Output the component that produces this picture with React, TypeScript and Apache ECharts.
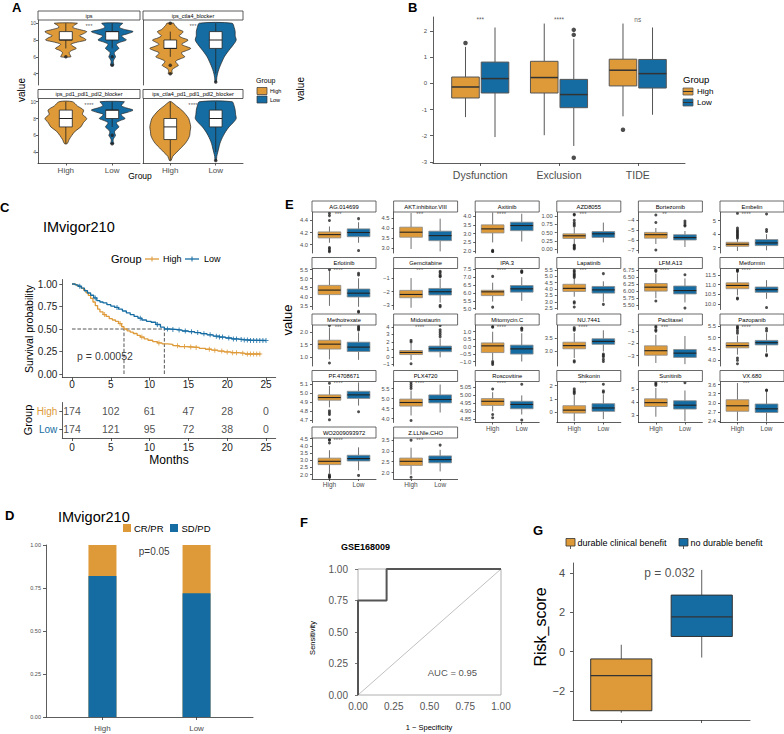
import React, { useEffect, useRef } from "react";
import * as echarts from "echarts";

const FONT = "'Liberation Sans', Arial, Helvetica, sans-serif";
const ORANGE = "#DE9A38";
const BLUE = "#156CA2";
const FILLS = [ORANGE, BLUE];
const GRAY_TXT = "#4d4d4d";
const GROUPS = ["High", "Low"];

// ---------------- Panel A : violins ----------------
const A_FACETS = ["ips", "ips_ctla4_blocker", "ips_pd1_pdl1_pdl2_blocker", "ips_ctla4_pd1_pdl1_pdl2_blocker"];
const A_SIG = ["***", "***", "****", "****"];
const A_Y_TICKS = [4, 6, 8, 10];
const A_Y_RANGE = [2.65, 10.38];
// density profiles: [value, relative half width]
const V_IPS_HIGH = [[6.0,0.24],[6.25,0.2],[6.5,0.16],[6.75,0.28],[7.0,0.5],[7.25,0.35],[7.5,0.25],[7.75,0.55],[8.0,0.97],[8.25,0.85],[8.5,0.65],[8.75,0.85],[9.0,1.0],[9.25,0.65],[9.5,0.33],[9.75,0.4],[10.0,0.55]];
const V_IPS_LOW = [[5.0,0.08],[5.25,0.06],[5.5,0.05],[5.75,0.1],[6.0,0.16],[6.25,0.12],[6.5,0.1],[6.75,0.2],[7.0,0.32],[7.25,0.25],[7.5,0.2],[7.75,0.4],[8.0,0.68],[8.25,0.55],[8.5,0.45],[8.75,0.75],[9.0,1.0],[9.25,0.6],[9.5,0.35],[9.75,0.4],[10.0,0.5]];
const V_CTLA4_HIGH = [[4.0,0.1],[4.25,0.08],[4.5,0.1],[4.75,0.25],[5.0,0.4],[5.25,0.3],[5.5,0.27],[5.75,0.48],[6.0,0.71],[6.25,0.6],[6.5,0.55],[6.75,0.8],[7.0,1.0],[7.25,0.75],[7.5,0.55],[7.75,0.72],[8.0,0.87],[8.25,0.6],[8.5,0.43],[8.75,0.55],[9.0,0.63],[9.25,0.42],[9.5,0.32],[9.75,0.22],[10.0,0.16]];
const V_CTLA4_LOW = [[3.0,0.03],[3.5,0.05],[4.0,0.09],[4.5,0.15],[5.0,0.23],[5.5,0.32],[6.0,0.42],[6.5,0.56],[7.0,0.72],[7.5,0.88],[8.0,1.0],[8.5,0.95],[9.0,0.95],[9.5,0.9],[10.0,0.8]];
const V_PD1_HIGH = [[5.0,0.06],[5.5,0.16],[6.0,0.29],[6.5,0.45],[7.0,0.72],[7.5,0.84],[8.0,1.0],[8.5,0.8],[9.0,0.85],[9.5,0.55],[10.0,0.32]];
const V_PD1_LOW = [[5.0,0.08],[5.25,0.05],[5.5,0.05],[5.75,0.1],[6.0,0.16],[6.25,0.12],[6.5,0.12],[6.75,0.22],[7.0,0.32],[7.25,0.25],[7.5,0.2],[7.75,0.38],[8.0,0.62],[8.25,0.5],[8.5,0.43],[8.75,0.75],[9.0,1.0],[9.25,0.7],[9.5,0.45],[9.75,0.5],[10.0,0.58]];
const V_ALL_HIGH = [[3.0,0.04],[3.5,0.12],[4.0,0.32],[4.5,0.52],[5.0,0.72],[5.5,0.86],[6.0,0.95],[6.5,0.97],[7.0,1.0],[7.5,0.96],[8.0,0.9],[8.5,0.75],[9.0,0.56],[9.5,0.3],[10.0,0.05]];
const V_ALL_LOW = [[3.0,0.03],[3.5,0.05],[4.0,0.1],[4.5,0.15],[5.0,0.2],[5.5,0.28],[6.0,0.38],[6.5,0.5],[7.0,0.65],[7.5,0.85],[8.0,1.0],[8.5,0.97],[9.0,0.95],[9.5,0.9],[10.0,0.8]];
const A_PROFILES = [[V_IPS_HIGH, V_IPS_LOW], [V_CTLA4_HIGH, V_CTLA4_LOW], [V_PD1_HIGH, V_PD1_LOW], [V_ALL_HIGH, V_ALL_LOW]];
const A_BOX_HIGH = [[7,8,8,9,10],[6,7,7,8,9],[5,7,8,9,10],[3,5.5,7,8,10]];
const A_BOX_LOW = [[7,8,9,9,10],[4,7,8,9,10],[7,8,9,9,10],[4,7,8,9,10]];
const A_OUT_HIGH = [[6],[10,5,4],[],[]];
const A_OUT_LOW = [[6,5],[3],[6,5],[3]];

// ---------------- Panel B : TIDE ----------------
const B_CATS = ["Dysfunction", "Exclusion", "TIDE"];
const B_HIGH = [[-1.29,-0.56,-0.14,0.24,1.39],[-1.98,-0.37,0.22,0.84,2.28],[-1.26,-0.1,0.5,0.92,2.28]];
const B_LOW = [[-2.05,-0.37,0.18,0.81,2.13],[-2.39,-0.93,-0.43,0.15,1.7],[-1.2,-0.18,0.37,0.91,2.13]];
const B_HIGH_OUT = [[1,1.54],[3,-1.77]];
const B_LOW_OUT = [[2,1.85],[2,2.04],[2,-2.84]];
const B_SIG = ["***", "****", "ns"];
const B_Y_TICKS = [-3,-2,-1,0,1,2];

// ---------------- Panel C : Kaplan-Meier ----------------
const KM_HIGH = [[0,1],[0.3,0.994],[0.6,0.983],[0.9,0.971],[1.2,0.954],[1.5,0.931],[1.8,0.903],[2.1,0.874],[2.4,0.84],[2.7,0.8],[3.0,0.76],[3.3,0.72],[3.6,0.69],[4.0,0.66],[4.4,0.64],[4.8,0.615],[5.2,0.6],[5.6,0.585],[6.0,0.56],[6.4,0.525],[6.7,0.5],[7.1,0.48],[7.5,0.465],[7.9,0.45],[8.4,0.43],[8.8,0.41],[9.3,0.39],[9.8,0.375],[10.4,0.36],[11.0,0.345],[11.6,0.335],[12.3,0.33],[13.0,0.315],[13.8,0.305],[14.7,0.3],[15.6,0.295],[16.4,0.285],[17.2,0.275],[18.0,0.265],[18.8,0.255],[19.6,0.245],[20.5,0.237],[21.5,0.23],[22.3,0.222],[24.3,0.222]];
const KM_LOW = [[0,1],[0.4,0.99],[0.8,0.975],[1.2,0.955],[1.6,0.925],[2.0,0.9],[2.4,0.875],[2.8,0.845],[3.2,0.815],[3.6,0.8],[4.0,0.79],[4.5,0.77],[5.0,0.755],[5.5,0.74],[6.0,0.72],[6.5,0.7],[7.0,0.68],[7.5,0.66],[8.0,0.64],[8.5,0.62],[9.0,0.6],[9.6,0.585],[10.2,0.575],[10.8,0.55],[11.4,0.52],[11.9,0.5],[12.6,0.495],[13.4,0.488],[14.2,0.478],[15.0,0.47],[15.8,0.46],[16.6,0.448],[17.4,0.435],[18.2,0.42],[19.0,0.41],[19.8,0.4],[20.6,0.39],[21.4,0.383],[22.2,0.378],[23.0,0.372],[25.0,0.372]];
const CENSOR_HIGH = [4.2,6.2,9.0,11.2,13.6,14.5,15.3,16.0,17.7,18.4,19.3,20.0,20.7,21.2,22.0,22.6,23.0,23.4,23.8,24.2];
const CENSOR_LOW = [1.0,3.0,5.8,8.8,11.0,12.3,13.0,13.8,14.6,15.4,16.2,17.0,17.8,18.6,19.0,19.4,20.2,20.8,21.2,21.8,22.2,22.6,23.0,23.4,23.8,24.2,24.6,25.0];
const MEDIAN_HIGH = 6.7;
const MEDIAN_LOW = 11.9;
const KM_P = "p = 0.00052";
const RISK_TIMES = [0,5,10,15,20,25];
const RISK_HIGH = [174,102,61,47,28,0];
const RISK_LOW = [174,121,95,72,38,0];
const SURV_TICKS = [0,0.25,0.5,0.75,1];

// ---------------- Panel D : response ----------------
const D_SDPD = [0.82, 0.72];
const D_CRPR = [0.18, 0.28];
const D_TICKS = [0,0.25,0.5,0.75,1];
const D_P = "p=0.05";

// ---------------- Panel E : drug sensitivity ----------------
const E_DRUGS = ["AG.014699","AKT.inhibitor.VIII","Axitinib","AZD8055","Bortezomib","Embelin","Erlotinib","Gemcitabine","IPA.3","Lapatinib","LFM.A13","Metformin","Methotrexate","Midostaurin","Mitomycin.C","NU.7441","Paclitaxel","Pazopanib","PF.4708671","PLX4720","Roscovitine","Shikonin","Sunitinib","VX.680","WO2009093972","Z.LLNle.CHO"];
const E_RANGE = [[3.86,4.54],[2.77,4.8],[1.9,4.23],[-0.12,1.12],[-7.3,-3.2],[2.6,5.65],[3.3,5.56],[-3.3,-0.3],[4.95,7.55],[2.4,5.6],[5.35,6.8],[9.7,11.85],[0.63,2.3],[-1.2,4.25],[-1.3,1.45],[2.45,4.0],[-3.85,-0.5],[3.75,5.56],[4.67,5.13],[3.8,5.85],[4.83,5.087],[-0.75,2.3],[2.4,5.6],[2.35,3.7],[1.7,4.55],[1.7,3.6]];
const E_TICKS = [[4.0,4.2,4.4],[3.0,3.5,4.0,4.5],[2.0,2.5,3.0,3.5,4.0],[0,0.25,0.5,0.75,1.0],[-7,-6,-5,-4],[3,4,5],[3.5,4.0,4.5,5.0,5.5],[-3,-2,-1],[5.0,5.5,6.0,6.5,7.0,7.5],[2.5,3.0,3.5,4.0,4.5,5.0,5.5],[5.5,5.75,6.0,6.25,6.5,6.75],[10.0,10.5,11.0,11.5],[1.0,1.5,2.0],[-1,0,1,2,3,4],[-1.0,-0.5,0.0,0.5,1.0],[3.0,3.5],[-3,-2,-1],[4.0,4.5,5.0,5.5],[4.7,4.8,4.9,5.0,5.1],[4.0,4.5,5.0,5.5],[4.85,4.9,4.95,5.0,5.05],[0,1,2],[3,4,5],[2.4,2.7,3.0,3.3,3.6],[2.0,2.5,3.0,3.5,4.0,4.5],[2.0,2.5,3.0,3.5]];
const E_DIGITS = [1,1,1,2,0,0,1,0,1,1,2,1,1,0,1,1,0,1,1,1,2,0,0,1,1,1];
const E_HIGH = [[4.03,4.11,4.165,4.21,4.3],[2.97,3.55,3.8,4.05,4.75],[2.5,3.04,3.27,3.5,4.2],[0.16,0.32,0.4,0.46,0.65],[-6.4,-5.82,-5.47,-5.24,-4.8],[2.75,3.1,3.25,3.4,3.6],[3.5,4.12,4.37,4.63,5.45],[-3.17,-2.44,-2.2,-1.9,-1.0],[5.45,5.83,6.07,6.17,6.65],[3.4,3.81,4.05,4.37,4.8],[5.75,6.0,6.14,6.27,6.62],[10.44,10.79,10.96,11.1,11.6],[0.9,1.32,1.52,1.68,2.2],[-0.4,0.32,0.6,0.86,1.8],[-0.9,-0.4,0.05,0.25,1.0],[2.75,3.1,3.22,3.35,3.7],[-3.6,-2.97,-2.6,-2.2,-1.3],[4.25,4.55,4.65,4.78,5.1],[4.84,4.92,4.95,4.98,5.08],[4.15,4.62,4.8,4.97,5.4],[4.9,4.937,4.963,4.98,5.02],[-0.65,-0.05,0.17,0.5,1.3],[2.85,3.65,3.95,4.25,5.1],[2.4,2.72,2.9,3.1,3.65],[2.1,2.7,2.93,3.15,3.7],[1.9,2.33,2.52,2.67,3.15]];
const E_LOW = [[4.03,4.13,4.2,4.26,4.37],[2.85,3.38,3.63,3.85,4.47],[2.55,3.17,3.46,3.65,4.13],[0.2,0.35,0.46,0.53,0.8],[-6.7,-6.0,-5.76,-5.47,-5.1],[2.8,3.15,3.35,3.6,4.0],[3.45,3.99,4.2,4.43,5.02],[-2.8,-2.24,-2.0,-1.76,-1.05],[5.5,6.05,6.26,6.47,7.0],[3.0,3.68,3.93,4.2,4.6],[5.6,5.9,6.02,6.18,6.45],[10.26,10.6,10.74,10.88,11.24],[0.88,1.22,1.4,1.6,2.0],[-0.05,0.7,1.09,1.45,2.45],[-1.0,-0.5,-0.15,0.1,0.9],[3.0,3.27,3.38,3.48,3.8],[-3.7,-3.15,-2.8,-2.5,-1.4],[4.35,4.68,4.78,4.88,5.2],[4.86,4.94,4.98,5.02,5.12],[4.3,4.78,4.95,5.18,5.7],[4.88,4.916,4.943,4.963,5.0],[-0.5,0.08,0.33,0.65,1.35],[2.5,3.45,3.75,4.1,4.9],[2.38,2.68,2.8,2.96,3.35],[2.3,2.95,3.12,3.35,3.9],[2.05,2.45,2.6,2.77,3.05]];
const E_HIGH_OUT = [[4.4,4.48,4.52,3.95,3.93,3.9,3.88],[],[2.05,2.0,1.98],[0.7,0.75,0.8,0.87,1.03,1.05,0.12,0.1,0.06,0.03,0.0],[-4.25,-3.5,-7.0],[3.7,3.8,3.9,4.0,4.1,4.2,4.3,4.45,5.55],[5.5],[],[7.05,5.1],[4.9,5.0,5.1,5.2,5.35,5.45,3.0,2.9,2.6],[6.7,6.72,6.75,5.65],[11.7,11.75,11.8,10.3,10.25],[2.28,0.75],[2.0,2.2,-0.9],[1.3,1.35,-1.0,-1.1,-1.2],[3.8,3.85,3.9,2.65,2.6],[-0.6,-0.7,-0.9,-1.0],[5.2,5.3,5.4,5.45,5.5,4.1,4.0,3.85],[5.11,4.8,4.78,4.76,4.7],[5.5,5.6,5.7,5.8,3.9],[5.04,4.88,4.86],[1.4,1.5,1.6,1.75],[5.3,5.4,5.5],[],[4.2,4.4,4.45,2.0,1.9,1.85,1.8],[3.5,1.78]];
const E_LOW_OUT = [[4.43,3.9],[],[],[],[-4.1,-4.3,-4.5,-4.6],[4.2,4.35,5.5],[5.3,5.2,3.2,3.15],[-0.5,-0.6,-0.75,-0.85,-0.9,-3.0,-3.1],[7.3,7.35,7.4],[5.2,2.8],[6.58,5.4],[9.8],[2.1,2.15,2.2,2.25],[2.7,3.0,3.3,3.6,4.2],[1.1,1.2,1.25],[2.9,2.85,2.8,2.7,2.62],[],[5.3,5.4,4.25,4.2],[4.79],[],[5.07,4.845],[1.5,1.6,2.1],[5.5],[3.4,3.42],[1.95],[3.27]];
const E_SIG = ["***","***","****","***","**","****","****","***","****","***","****","****","***","****","****","****","***","****","****","****","****","***","***","***","****","***"];

// ---------------- Panel F : ROC ----------------
const ROC = [[0,0],[0,0.75],[0.2,0.75],[0.2,1],[1,1]];
const ROC_DIAG = [[0,0],[1,1]];
const ROC_TICKS = [0,0.25,0.5,0.75,1];
const AUC = "AUC = 0.95";

// ---------------- Panel G : Risk score ----------------
const G_GROUPS = ["durable clinical benefit", "no durable benefit"];
const G_BOX = [[-3.1,-3.0,-1.22,-0.37,0.35],[-0.3,0.77,1.77,2.87,4.15]];
const G_TICKS = [-2,0,2,4];
const G_P = "p = 0.032";

const fmtNum = (v: number, d: number) => v.toFixed(d).replace("-", "\u2212");

function boxRender(boxW: number, st: any) {
  return (params: any, api: any) => {
    const x = api.value(0);
    const g = api.value(6);
    const pMin = api.coord([x, api.value(1)]);
    const pQ1 = api.coord([x, api.value(2)]);
    const pMd = api.coord([x, api.value(3)]);
    const pQ3 = api.coord([x, api.value(4)]);
    const pMax = api.coord([x, api.value(5)]);
    const w = api.size([boxW, 0])[0];
    const cx = pMd[0];
    return {
      type: "group",
      children: [
        { type: "line", shape: { x1: cx, y1: pMax[1], x2: cx, y2: pQ3[1] }, style: { stroke: st.whisker, lineWidth: st.wlw } },
        { type: "line", shape: { x1: cx, y1: pQ1[1], x2: cx, y2: pMin[1] }, style: { stroke: st.whisker, lineWidth: st.wlw } },
        { type: "rect", shape: { x: cx - w / 2, y: pQ3[1], width: w, height: pQ1[1] - pQ3[1] }, style: { fill: st.fills[g], stroke: st.stroke, lineWidth: st.lw } },
        { type: "line", shape: { x1: cx - w / 2, y1: pMd[1], x2: cx + w / 2, y2: pMd[1] }, style: { stroke: st.median, lineWidth: st.mlw } },
      ],
    };
  };
}

function violinRender(profiles: number[][][], maxHalf: number) {
  return (params: any, api: any) => {
    const x = api.value(0);
    const k = api.value(1);
    const prof = profiles[k];
    const right = prof.map((p) => api.coord([x + p[1] * maxHalf, p[0]]));
    const left = prof.slice().reverse().map((p) => api.coord([x - p[1] * maxHalf, p[0]]));
    return {
      type: "polygon",
      shape: { points: right.concat(left), smooth: 0.3 },
      style: { fill: FILLS[k], stroke: "#222", lineWidth: 0.7 },
    };
  };
}

function stepAt(curve: number[][], t: number) {
  let s = curve[0][1];
  for (const p of curve) { if (p[0] <= t) s = p[1]; }
  return s;
}

function buildOption() {
  const grids: any[] = [];
  const xAxes: any[] = [];
  const yAxes: any[] = [];
  const series: any[] = [];
  const graphic: any[] = [];

  const axis = (a: any, gi: number, dim: string) => {
    const lc = a.lineColor ?? "#333";
    const o: any = {
      gridIndex: gi,
      position: dim === "x" ? "bottom" : "left",
      splitLine: { show: false },
      splitArea: { show: false },
      axisLine: { show: a.line ?? false, onZero: false, lineStyle: { color: lc, width: a.lineWidth ?? 0.8 } },
      axisTick: { show: a.tick ?? false, length: a.tickLen ?? 2, lineStyle: { color: lc, width: a.lineWidth ?? 0.8 } },
      axisLabel: { show: a.label ?? false, fontSize: a.fontSize ?? 6, color: a.color ?? GRAY_TXT, margin: a.margin ?? 2, fontFamily: FONT },
    };
    if (a.cats) {
      o.type = "category";
      o.data = a.cats;
      o.boundaryGap = true;
      o.axisTick.alignWithLabel = true;
      if (a.labelColor) o.axisLabel.color = a.labelColor;
    } else {
      o.type = "value";
      o.min = a.min;
      o.max = a.max;
      if (a.ticks) {
        o.axisTick.customValues = a.ticks;
        o.axisLabel.customValues = a.ticks;
      }
      if (a.fmt) o.axisLabel.formatter = a.fmt;
    }
    return o;
  };
  const panel = (box: number[], xa: any, ya: any, extra: any = {}) => {
    const gi = grids.length;
    grids.push({ left: box[0], top: box[1], width: box[2], height: box[3], containLabel: false, outerBoundsMode: "none", show: false, ...extra });
    xAxes.push(axis(xa, gi, "x"));
    yAxes.push(axis(ya, gi, "y"));
    return gi;
  };
  const txt = (text: string, x: number, y: number, o: any = {}) => {
    graphic.push({
      type: "text", x, y, rotation: o.rot ?? 0, silent: true, z: 10,
      style: {
        text, fontSize: o.size ?? 10, fontFamily: FONT, fontWeight: o.bold ? "bold" : "normal", fill: o.color ?? "#000",
        align: o.align ?? "left", verticalAlign: "middle", textAlign: o.align ?? "left", textVerticalAlign: "middle",
      },
    });
  };
  const rect = (x: number, y: number, w: number, h: number, fill: string, stroke: string, lw = 0.8) => {
    graphic.push({ type: "rect", silent: true, z: 9, shape: { x, y, width: w, height: h }, style: { fill, stroke, lineWidth: lw } });
  };
  const gline = (x1: number, y1: number, x2: number, y2: number, stroke: string, lw = 1) => {
    graphic.push({ type: "line", silent: true, z: 10, shape: { x1, y1, x2, y2 }, style: { stroke, lineWidth: lw } });
  };
  const outliers = (gi: number, pts: number[][], size: number) => {
    if (!pts.length) return;
    series.push({ type: "scatter", xAxisIndex: gi, yAxisIndex: gi, data: pts, symbolSize: size, itemStyle: { color: "#222" }, silent: true, z: 5, clip: false });
  };
  const labelAt = (gi: number, x: number, y: number, text: string, size: number, color = "#333") => {
    series.push({
      type: "scatter", xAxisIndex: gi, yAxisIndex: gi, data: [[x, y]], symbolSize: 1, itemStyle: { color: "transparent" }, silent: true, z: 6, clip: false,
      label: { show: true, position: "inside", formatter: text, fontSize: size, color, fontFamily: FONT },
    });
  };
  const catFmt = (names: string[]) => (v: number) => names[Math.round(v) - 1] ?? "";

  // ---------- Letters ----------
  const letters: [string, number, number][] = [["A", 12, 7], ["B", 408, 7], ["C", 0, 207], ["D", 5, 515], ["E", 285, 204], ["F", 300, 522], ["G", 533, 530]];
  letters.forEach(([l, x, y]) => txt(l, x, y, { size: 13, bold: true }));

  // ---------- A ----------
  const aBoxes = [[38, 20, 102, 65], [143, 20, 100, 65], [38, 98.5, 102, 65], [143, 98.5, 100, 65]];
  const whiteBox = { fills: ["#fff", "#fff"], stroke: "#222", lw: 0.8, whisker: "#222", wlw: 0.8, median: "#222", mlw: 1 };
  A_FACETS.forEach((name, k) => {
    const [l, t, w, h] = aBoxes[k];
    const leftCol = k % 2 === 0;
    const bottom = k >= 2;
    const gi = panel([l, t, w, h],
      { min: 0.4, max: 2.6, ticks: [1, 2], fmt: catFmt(GROUPS), line: bottom, tick: bottom, label: bottom, fontSize: 8, margin: 3, tickLen: 2 },
      { min: A_Y_RANGE[0], max: A_Y_RANGE[1], ticks: A_Y_TICKS, line: true, tick: leftCol, label: leftCol, fontSize: 5, margin: 2, tickLen: 2 });
    rect(l, t - 9, w, 9, "#fff", "#333", 0.8);
    txt(name, l + w / 2, t - 4.5, { size: 5.5, align: "center" });
    series.push({ type: "custom", xAxisIndex: gi, yAxisIndex: gi, renderItem: violinRender(A_PROFILES[k], 0.45), data: [[1, 0], [2, 1]], encode: { x: 0, y: 1 }, silent: true, z: 2, clip: false });
    series.push({ type: "custom", xAxisIndex: gi, yAxisIndex: gi, renderItem: boxRender(0.28, whiteBox), data: [[1, ...A_BOX_HIGH[k], 0], [2, ...A_BOX_LOW[k], 1]], encode: { x: 0, y: 3 }, silent: true, z: 3, clip: false });
    outliers(gi, [...A_OUT_HIGH[k].map((v) => [1, v]), ...A_OUT_LOW[k].map((v) => [2, v])], 3.5);
    labelAt(gi, 1.5, 9.65, A_SIG[k], 6);
  });
  txt("value", 21, 90, { size: 10, rot: Math.PI / 2, align: "center" });
  txt("Group", 140, 176, { size: 8.5, align: "center" });
  txt("Group", 256, 80, { size: 7 });
  rect(257, 87.5, 10, 7, ORANGE, "#333", 0.7);
  rect(257, 96, 10, 7, BLUE, "#333", 0.7);
  txt("High", 270, 91, { size: 5.5 });
  txt("Low", 270, 99.5, { size: 5.5 });

  // ---------- B ----------
  const gB = panel([433, 17, 252, 146],
    { min: 0.4, max: 3.6, ticks: [1, 2, 3], fmt: catFmt(B_CATS), line: true, tick: true, label: true, fontSize: 10.5, margin: 6, tickLen: 3 },
    { min: -3.04, max: 2.53, ticks: B_Y_TICKS, line: true, tick: true, label: true, fontSize: 6, margin: 6, tickLen: 3 });
  const bStyle = { fills: FILLS, stroke: "#555", lw: 1, whisker: "#555", wlw: 1, median: "#333", mlw: 1.5 };
  const bData: any[] = [];
  B_CATS.forEach((c, i) => {
    bData.push([i + 1 - 0.1875, ...B_HIGH[i], 0]);
    bData.push([i + 1 + 0.1875, ...B_LOW[i], 1]);
  });
  series.push({ type: "custom", xAxisIndex: gB, yAxisIndex: gB, renderItem: boxRender(0.35, bStyle), data: bData, encode: { x: 0, y: 3 }, silent: true, z: 3, clip: false });
  outliers(gB, [...B_HIGH_OUT.map((p) => [p[0] - 0.1875, p[1]]), ...B_LOW_OUT.map((p) => [p[0] + 0.1875, p[1]])], 4.5);
  B_SIG.forEach((s, i) => labelAt(gB, i + 1, 2.43, s, 6.5));
  txt("value", 300, 89, { size: 10, rot: Math.PI / 2, align: "center" });
  txt("Group", 683, 79, { size: 9.5 });
  [ORANGE, BLUE].forEach((c, i) => {
    const y = 88 + i * 11;
    rect(683, y, 10, 7, c, "#555", 0.8);
    gline(683, y + 3.5, 693, y + 3.5, "#333", 1);
    txt(GROUPS[i], 697, y + 3.5, { size: 8 });
  });

  // ---------- C ----------
  txt("IMvigor210", 43, 227, { size: 14.5 });
  txt("Group", 111, 259, { size: 11 });
  [ORANGE, BLUE].forEach((c, i) => {
    const x0 = i === 0 ? 145 : 185;
    gline(x0, 259, x0 + 14, 259, c, 1.3);
    gline(x0 + 7, 256.5, x0 + 7, 261.5, c, 1);
    txt(GROUPS[i], i === 0 ? 163 : 204, 259, { size: 9 });
  });
  const gKM = panel([62.3, 279.5, 213.4, 98.1],
    { min: -1.25, max: 26.25, ticks: RISK_TIMES, line: true, tick: true, label: true, fontSize: 10, color: "#222", margin: 2, tickLen: 3 },
    { min: -0.04, max: 1.05, ticks: SURV_TICKS, fmt: (v: number) => v.toFixed(2), line: true, tick: true, label: true, fontSize: 10, color: "#222", margin: 5, tickLen: 3 });
  const dash = { type: "dashed", color: "#444", width: 0.9 };
  [[[0, 0.5], [MEDIAN_LOW, 0.5]], [[MEDIAN_HIGH, 0], [MEDIAN_HIGH, 0.5]], [[MEDIAN_LOW, 0], [MEDIAN_LOW, 0.5]]].forEach((d) => {
    series.push({ type: "line", xAxisIndex: gKM, yAxisIndex: gKM, data: d, showSymbol: false, lineStyle: dash, silent: true, z: 2 });
  });
  [[KM_HIGH, CENSOR_HIGH, ORANGE], [KM_LOW, CENSOR_LOW, BLUE]].forEach(([curve, cens, col]: any) => {
    series.push({ type: "line", xAxisIndex: gKM, yAxisIndex: gKM, data: curve, step: "end", showSymbol: false, lineStyle: { color: col, width: 1.3 }, itemStyle: { color: col }, silent: true, z: 3, clip: false });
    series.push({
      type: "scatter", xAxisIndex: gKM, yAxisIndex: gKM, data: cens.map((t: number) => [t, stepAt(curve, t)]),
      symbol: "path://M2 0H3V2H5V3H3V5H2V3H0V2H2Z", symbolSize: 5, itemStyle: { color: col }, silent: true, z: 4, clip: false,
    });
  });
  labelAt(gKM, 4.25, 0.2, KM_P, 10.5, "#000");
  txt("Survival probability", 29, 329, { size: 10.5, rot: Math.PI / 2, align: "center" });

  const gRisk = panel([62.3, 402.5, 213.4, 35.5],
    { min: -1.25, max: 26.25, ticks: RISK_TIMES, line: true, tick: true, label: true, fontSize: 10, color: "#222", margin: 4, tickLen: 3 },
    { cats: ["Low", "High"], line: true, tick: true, label: true, fontSize: 10, margin: 5, tickLen: 3, labelColor: (v: string) => (v === "High" ? ORANGE : BLUE) });
  const riskData: any[] = [];
  RISK_TIMES.forEach((t, i) => {
    riskData.push([t, 1, RISK_HIGH[i]]);
    riskData.push([t, 0, RISK_LOW[i]]);
  });
  series.push({
    type: "scatter", xAxisIndex: gRisk, yAxisIndex: gRisk, data: riskData, symbolSize: 1, itemStyle: { color: "transparent" }, silent: true, clip: false,
    label: { show: true, position: "inside", formatter: (p: any) => String(p.value[2]), fontSize: 10.5, color: "#222", fontFamily: FONT },
  });
  txt("Group", 28, 420, { size: 11, rot: Math.PI / 2, align: "center" });
  txt("Months", 169, 460, { size: 12, align: "center" });

  // ---------- D ----------
  txt("IMvigor210", 58, 517, { size: 14.5 });
  rect(123, 524, 8, 8, ORANGE, "none", 0);
  txt("CR/PR", 134, 528, { size: 9.5 });
  rect(170, 524, 8, 8, BLUE, "none", 0);
  txt("SD/PD", 181.5, 528, { size: 9.5 });
  const gD = panel([46, 545, 207, 172],
    { min: 0.4, max: 2.6, ticks: [1, 2], fmt: catFmt(GROUPS), line: true, tick: true, label: true, fontSize: 8, margin: 7, tickLen: 3 },
    { min: 0, max: 1, ticks: D_TICKS, fmt: (v: number) => v.toFixed(2), line: true, tick: true, label: true, fontSize: 5.5, margin: 5, tickLen: 3 });
  // stacked: CR/PR sits on top of SD/PD -> full-height orange bar behind the blue SD/PD bar
  series.push({ type: "bar", xAxisIndex: gD, yAxisIndex: gD, data: D_SDPD.map((v, i) => [i + 1, v + D_CRPR[i]]), barWidth: 28, barGap: "-100%", itemStyle: { color: ORANGE }, silent: true, z: 2 });
  series.push({ type: "bar", xAxisIndex: gD, yAxisIndex: gD, data: D_SDPD.map((v, i) => [i + 1, v]), barWidth: 28, barGap: "-100%", itemStyle: { color: BLUE }, silent: true, z: 3 });
  labelAt(gD, 1.55, 0.96, D_P, 10, "#000");

  // ---------- E ----------
  const eStyle = { fills: FILLS, stroke: "#8a8a8a", lw: 0.8, whisker: "#333", wlw: 0.7, median: "#222", mlw: 1.1 };
  E_DRUGS.forEach((name, k) => {
    const r = Math.floor(k / 6);
    const c = k % 6;
    const l = 312 + c * 81.6;
    const st = 201 + r * 56.5;
    const t = st + 11;
    const w = 64;
    const h = 41;
    const bottom = k >= 20;
    const d = E_DIGITS[k];
    const [lo, hi] = E_RANGE[k];
    const gi = panel([l, t, w, h],
      { min: 0.4, max: 2.6, ticks: [1, 2], fmt: catFmt(GROUPS), line: bottom, tick: bottom, label: bottom, fontSize: 6.5, margin: 2, tickLen: 2 },
      { min: lo, max: hi, ticks: E_TICKS[k], fmt: (v: number) => fmtNum(v, d), line: true, tick: true, label: true, fontSize: 5.8, margin: 4, tickLen: 2 });
    rect(l, st, w, 11, "#fff", "#444", 0.8);
    txt(name, l + w / 2, st + 5.5, { size: 5.8, align: "center" });
    series.push({ type: "custom", xAxisIndex: gi, yAxisIndex: gi, renderItem: boxRender(0.78, eStyle), data: [[1, ...E_HIGH[k], 0], [2, ...E_LOW[k], 1]], encode: { x: 0, y: 3 }, silent: true, z: 3, clip: false });
    outliers(gi, [...E_HIGH_OUT[k].map((v) => [1, v]), ...E_LOW_OUT[k].map((v) => [2, v])], 3);
    labelAt(gi, 1.3, hi - (hi - lo) * 0.04, E_SIG[k], 6);
  });
  txt("value", 287, 320, { size: 13, rot: Math.PI / 2, align: "center" });

  // ---------- F ----------
  txt("GSE168009", 341, 547, { size: 9, bold: true });
  const gF = panel([358, 569, 143, 126],
    { min: 0, max: 1, ticks: ROC_TICKS, fmt: (v: number) => v.toFixed(2), line: false, tick: false, label: true, fontSize: 10, color: "#555", margin: 6 },
    { min: 0, max: 1, ticks: ROC_TICKS, fmt: (v: number) => v.toFixed(2), line: false, tick: true, tickLen: 3, label: true, fontSize: 10, color: "#555", margin: 10, lineColor: "#555" },
    { show: true, borderColor: "#b0b0b0", borderWidth: 1, backgroundColor: "transparent" });
  series.push({ type: "line", xAxisIndex: gF, yAxisIndex: gF, data: ROC_DIAG, showSymbol: false, lineStyle: { color: "#c0c0c0", width: 1 }, silent: true, z: 2 });
  series.push({ type: "line", xAxisIndex: gF, yAxisIndex: gF, data: ROC, showSymbol: false, lineStyle: { color: "#555", width: 2 }, silent: true, z: 3, clip: false });
  labelAt(gF, 0.66, 0.18, AUC, 9.5, "#222");
  txt("Sensitivity", 312, 638, { size: 7.5, rot: Math.PI / 2, align: "center" });
  txt("1 \u2212 Specificity", 429, 727, { size: 7.5, align: "center" });

  // ---------- G ----------
  [ORANGE, BLUE].forEach((c, i) => {
    const x = i === 0 ? 566 : 679;
    gline(x + 4.5, 546, x + 4.5, 549, "#333", 0.8);
    rect(x, 538.5, 9, 7.5, c, "#333", 0.8);
    txt(G_GROUPS[i], x + 11.5, 543, { size: 9 });
  });
  const gG = panel([573, 563, 177, 157],
    { min: 0.4, max: 2.6, ticks: [1, 2], line: true, tick: true, tickLen: 3, label: false },
    { min: -3.47, max: 4.5, ticks: G_TICKS, fmt: (v: number) => fmtNum(v, 0), line: true, tick: true, tickLen: 3, label: true, fontSize: 11, margin: 8 });
  const gStyle = { fills: FILLS, stroke: "#333", lw: 1, whisker: "#333", wlw: 0.8, median: "#333", mlw: 1.3 };
  series.push({ type: "custom", xAxisIndex: gG, yAxisIndex: gG, renderItem: boxRender(0.76, gStyle), data: [[1, ...G_BOX[0], 0], [2, ...G_BOX[1], 1]], encode: { x: 0, y: 3 }, silent: true, z: 3, clip: false });
  labelAt(gG, 1.6, 4.0, G_P, 12, "#222");
  txt("Risk_score", 540, 627, { size: 16, rot: Math.PI / 2, align: "center" });

  return {
    animation: false,
    backgroundColor: "#fff",
    textStyle: { fontFamily: FONT },
    grid: grids,
    xAxis: xAxes,
    yAxis: yAxes,
    series,
    graphic: { elements: graphic },
  };
}

export default function App() {
  const ref = useRef<HTMLDivElement>(null);
  useEffect(() => {
    if (!ref.current) return;
    const chart = echarts.init(ref.current, undefined, { renderer: "svg" });
    chart.setOption(buildOption() as any);
    return () => chart.dispose();
  }, []);
  return <div ref={ref} style={{ position: "fixed", left: 0, top: 0, width: 784, height: 734, background: "#fff" }} />;
}
